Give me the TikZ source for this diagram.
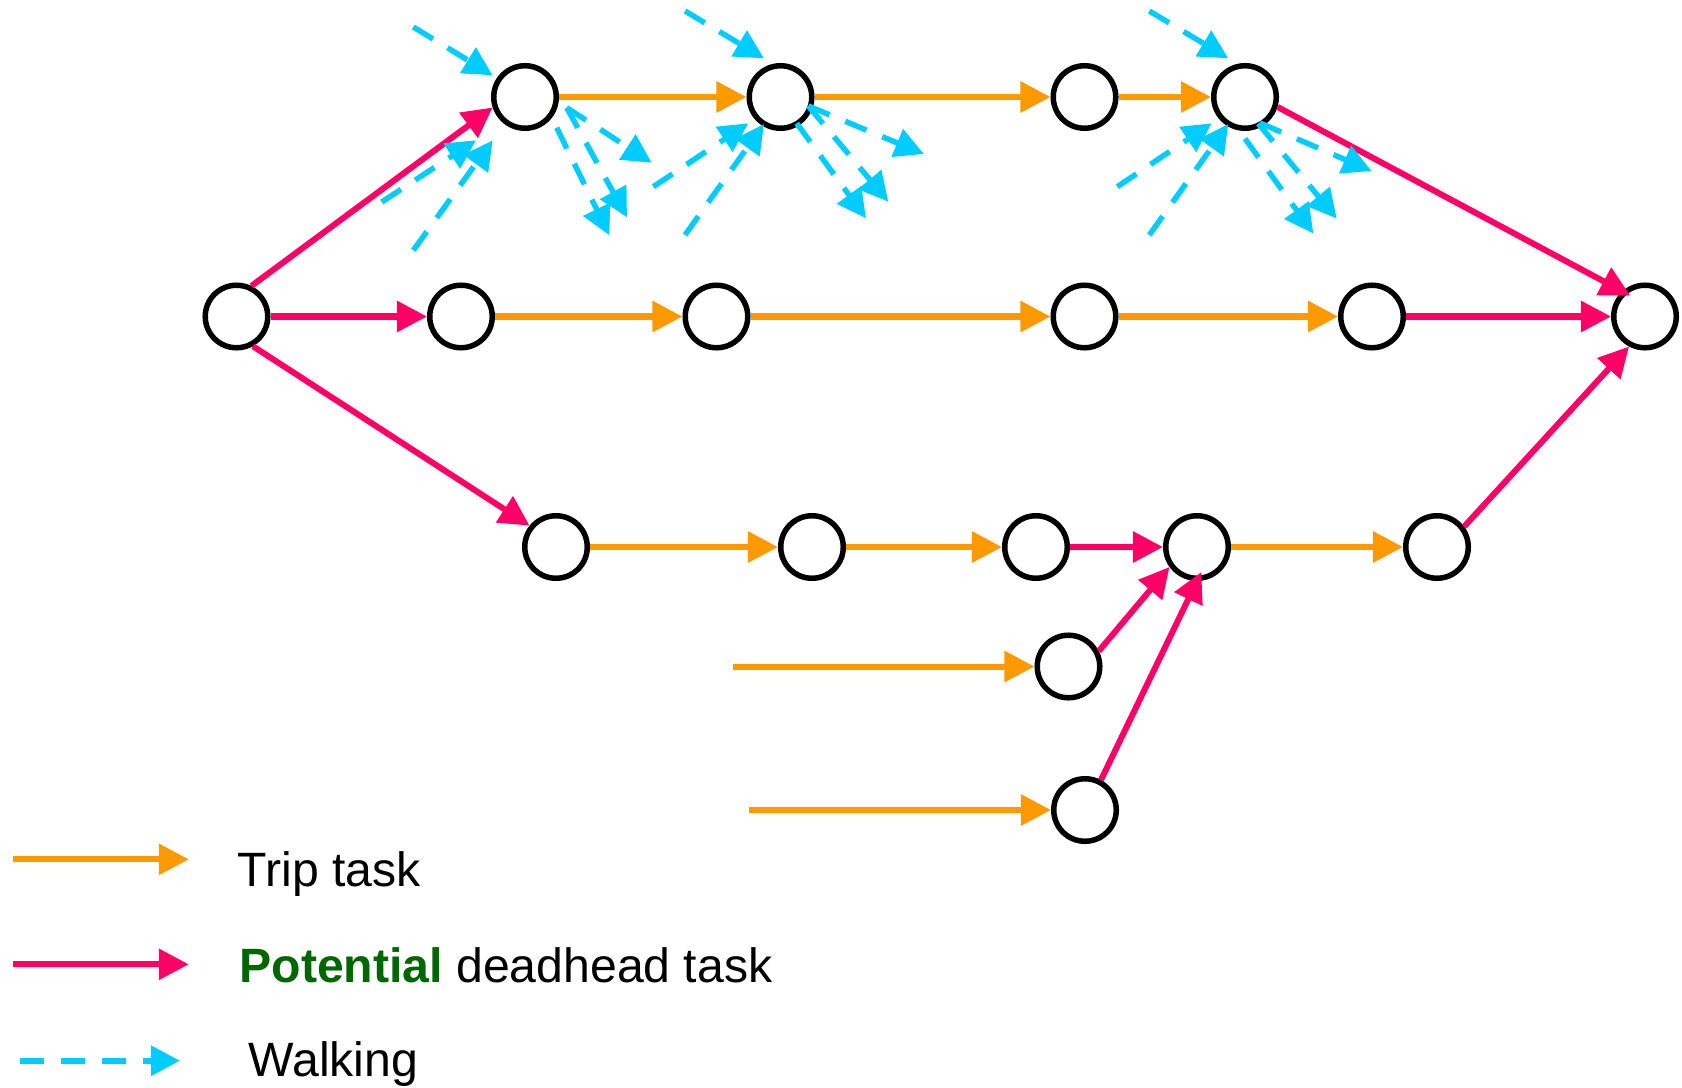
\documentclass[tikz,border=0pt]{standalone}
\usepackage{fontspec}
\setmainfont{Liberation Sans}
\usetikzlibrary{arrows.meta,calc}
\definecolor{tripcol}{HTML}{FF9900}
\definecolor{deadcol}{HTML}{FF0066}
\definecolor{walkcol}{HTML}{00CCFF}
\definecolor{potcol}{HTML}{006600}
\begin{document}
\begin{tikzpicture}[x=0.01cm,y=-0.01cm,
  stop/.style={circle,draw=black,line width=0.055cm,minimum size=0.625cm,inner sep=0pt},
  tip/.style={-{Triangle[length=0.3cm,width=0.3cm]}},
  trip/.style={tip,draw=tripcol,line width=0.06cm},
  dead/.style={tip,draw=deadcol,line width=0.06cm},
  walk/.style={draw=walkcol,line width=0.055cm,dash pattern=on 0.23cm off 0.17cm,
               -{Triangle[length=0.29cm,width=0.29cm]}},
  legtext/.style={anchor=base west,inner sep=0pt,font=\fontsize{13.7}{16}\selectfont}]
\useasboundingbox (0,0) rectangle (1682,1088);

% stops
\node[stop] (A1) at (525,97) {};
\node[stop] (A2) at (780.5,97) {};
\node[stop] (A3) at (1084.5,97) {};
\node[stop] (A4) at (1245,97) {};
\node[stop] (S)  at (236.5,316.5) {};
\node[stop] (B1) at (461,316.5) {};
\node[stop] (B2) at (716.5,316.5) {};
\node[stop] (B3) at (1084.5,316.5) {};
\node[stop] (B4) at (1372,316.5) {};
\node[stop] (T)  at (1645,316.5) {};
\node[stop] (C1) at (556,547) {};
\node[stop] (C2) at (812,547) {};
\node[stop] (C3) at (1036,547) {};
\node[stop] (C4) at (1197,547) {};
\node[stop] (C5) at (1437,547) {};
\node[stop] (D1) at (1068.5,666.5) {};
\node[stop] (D2) at (1085,810) {};

\coordinate (inD1) at (732.6,666.5);
\coordinate (inD2) at (748.7,810);

% trip tasks
\draw[trip] (A1.east) -- (A2.west);
\draw[trip] (A2.east) -- (A3.west);
\draw[trip] (A3.east) -- (A4.west);
\draw[trip] (B1.east) -- (B2.west);
\draw[trip] (B2.east) -- (B3.west);
\draw[trip] (B3.east) -- (B4.west);
\draw[trip] (C1.east) -- (C2.west);
\draw[trip] (C2.east) -- (C3.west);
\draw[trip] (C4.east) -- (C5.west);
\draw[trip] (inD1) -- (D1.west);
\draw[trip] (inD2) -- (D2.west);

% potential deadhead tasks
\draw[dead] (S.64) -- (A1.198);
\draw[dead] (S.east) -- (B1.west);
\draw[dead] (S.-61) -- (C1.141);
\draw[dead, shorten >=-0.09cm] (A4.-17) -- (T.132);
\draw[dead] (B4.east) -- (T.west);
\draw[dead] (C3.east) -- (C4.west);
\draw[dead] (C5.37) -- (T.242);
\draw[dead] (D1.27) -- (C4.216);
\draw[dead, shorten >=-0.1cm] (D2.62) -- (C4.270);

% walking links
\foreach \n/\a/\b/\c/\d in {
  A1/-111.7/-70/-32.3/-21.7, A1/-143.3/105/-49/43.3, A1/-111.7/153.3/-32.3/43.3,
  A1/41.7/10.7/126.7/65.7, A1/41.7/10.7/102/120.3, A1/31.7/30.7/84.3/138.3,
  A2/-95.5/-86/-16.5/-38.7, A2/-127.2/89.7/-32.2/26.3, A2/-95.5/138/-16.5/27,
  A2/27.8/9/143.5/57, A2/27.8/9/107.8/104.7, A2/16.2/26.3/85.5/121.3,
  A4/-95.7/-86/-16.7/-38.7, A4/-127.7/89.7/-33.3/26.3, A4/-95.7/138/-16.7/27,
  A4/15/26/126.7/74, A4/13.3/26.6/91.7/121.6, A4/0/41.6/68.3/136.6}
  \draw[walk] ($(\n)+(\a,\b)$) -- ($(\n)+(\c,\d)$);

% legend
\coordinate (l1a) at (12.8,859.3);  \coordinate (l1b) at (188.8,859.3);
\coordinate (l2a) at (12.8,964.3);  \coordinate (l2b) at (188.8,964.3);
\coordinate (l3a) at (20,1060.7);   \coordinate (l3b) at (180,1060.7);
\draw[trip] (l1a) -- (l1b);
\draw[dead] (l2a) -- (l2b);
\draw[walk, line width=0.06cm, dash pattern=on 0.24cm off 0.17cm] (l3a) -- (l3b);
\node[legtext] (lt1) at (237,886.7) {Trip task};
\node[legtext] (lt2) at (238.8,982.7) {\textcolor{potcol}{\textbf{Potential}} deadhead task};
\node[legtext] (lt3) at (248,1076.7) {Walking};
\end{tikzpicture}
\end{document}
